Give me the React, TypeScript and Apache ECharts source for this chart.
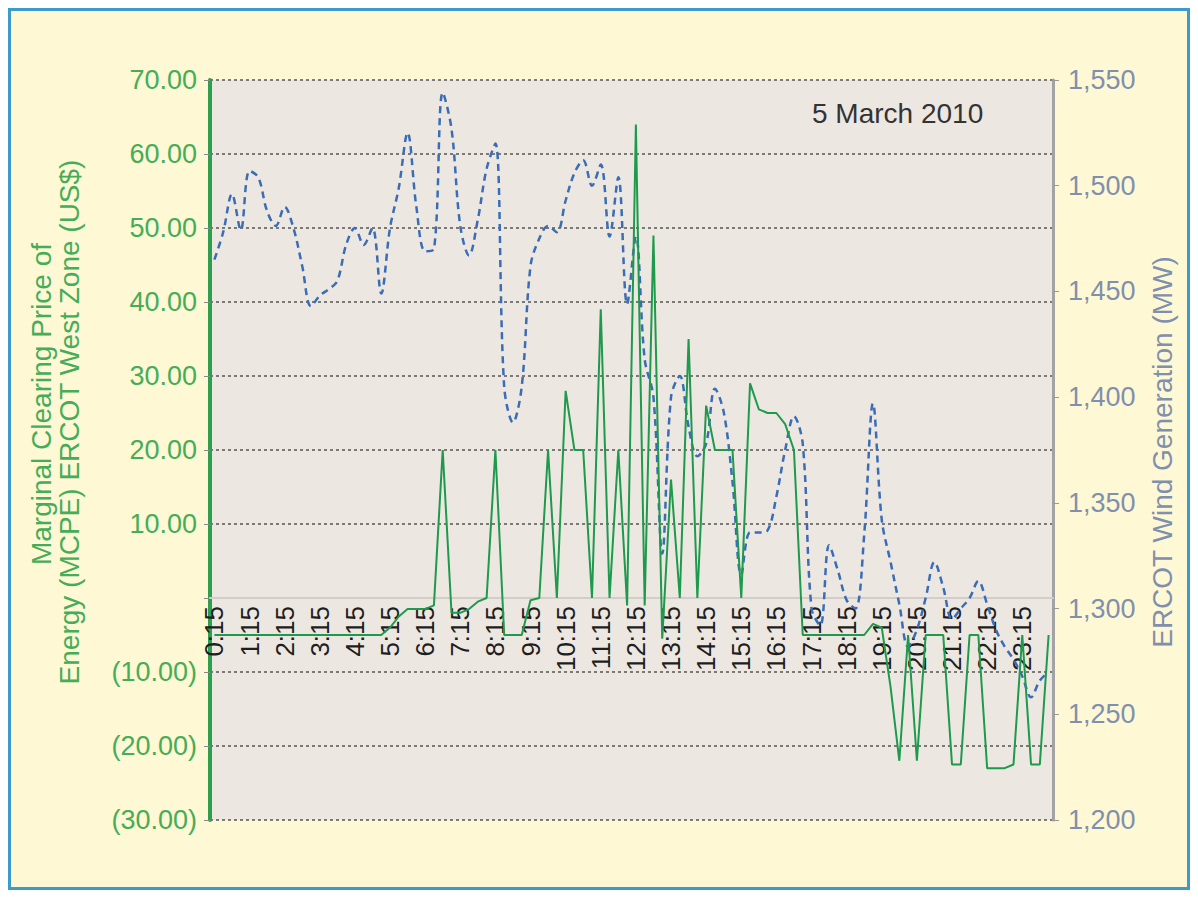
import React, { useEffect, useRef } from "react";
import * as echarts from "echarts";

const times: string[] = [
  "0:15","0:30","0:45","1:00","1:15","1:30","1:45","2:00","2:15","2:30","2:45","3:00",
  "3:15","3:30","3:45","4:00","4:15","4:30","4:45","5:00","5:15","5:30","5:45","6:00",
  "6:15","6:30","6:45","7:00","7:15","7:30","7:45","8:00","8:15","8:30","8:45","9:00",
  "9:15","9:30","9:45","10:00","10:15","10:30","10:45","11:00","11:15","11:30","11:45","12:00",
  "12:15","12:30","12:45","13:00","13:15","13:30","13:45","14:00","14:15","14:30","14:45","15:00",
  "15:15","15:30","15:45","16:00","16:15","16:30","16:45","17:00","17:15","17:30","17:45","18:00",
  "18:15","18:30","18:45","19:00","19:15","19:30","19:45","20:00","20:15","20:30","20:45","21:00",
  "21:15","21:30","21:45","22:00","22:15","22:30","22:45","23:00","23:15","23:30","23:45","24:00",
];

// Marginal Clearing Price of Energy (US$) - left axis
const mcpe: number[] = [
  -5, -5, -5, -5, -5, -5, -5, -5, -5, -5, -5, -5, -5, -5, -5, -5, -5, -5, -5, -5,
  -4, -2.5, -1.5, -1.5, -1.5, -1, 20, -2, -2, -1.5, -0.5, 0, 20, -5, -5, -5,
  -0.3, 0, 20, 0, 28, 20, 20, 0, 39, 0, 20, -1, 64, -1, 49, -5.5,
  16, 0, 35, 0, 26, 20, 20, 20, 0, 29, 25.5, 25, 25, 23.5, 20, -5,
  -5, -5, -5, -5, -5, -5, -5, -3.5, -4, -12, -22, -5, -22, -5, -5, -5,
  -22.5, -22.5, -5, -5, -23, -23, -23, -22.5, -5, -22.5, -22.5, -5,
];

// ERCOT Wind Generation (MW) - right axis
const wind: number[] = [
  1465, 1478, 1496, 1479, 1507, 1504, 1488, 1481, 1490, 1480, 1462, 1443,
  1448, 1451, 1455, 1472, 1480, 1472, 1480, 1449, 1480, 1499, 1525, 1490,
  1469, 1470, 1544, 1527, 1481, 1467, 1484, 1508, 1520, 1405, 1388, 1405,
  1462, 1475, 1481, 1478, 1493, 1506, 1512, 1500, 1510, 1476, 1504, 1444,
  1476, 1418, 1400, 1326, 1400, 1410, 1386, 1372, 1378, 1404, 1393, 1360,
  1316, 1336, 1336, 1337, 1353, 1375, 1391, 1378, 1300, 1292, 1330, 1318,
  1304, 1300, 1335, 1397, 1342, 1322, 1302, 1282, 1290, 1305, 1322, 1310,
  1295, 1300, 1305, 1313, 1302, 1290, 1282, 1276, 1268, 1258, 1266, 1270,
];

const leftTitle1 = "Marginal Clearing Price of";
const leftTitle2 = "Energy (MCPE) ERCOT West Zone (US$)";
const rightTitle = "ERCOT Wind Generation (MW)";
const dateLabel = "5 March 2010";

const FONT = "'Liberation Sans', Arial, Helvetica, sans-serif";
const GREEN_TEXT = "#45AD58";
const BLUE_TEXT = "#7F90AE";

export default function App() {
  const ref = useRef<HTMLDivElement>(null);

  useEffect(() => {
    if (!ref.current) return;
    const chart = echarts.init(ref.current, undefined, { renderer: "svg" });
    chart.setOption({
      animation: false,
      grid: {
        left: 199,
        top: 69,
        width: 843,
        height: 740,
        show: true,
        backgroundColor: "#EDE7E2",
        borderWidth: 0,
      },
      xAxis: {
        type: "category",
        data: times,
        boundaryGap: true,
        position: "bottom",
        offset: -222,
        z: 2,
        axisLine: {
          show: true,
          onZero: false,
          lineStyle: { color: "#D2CDC9", width: 2 },
        },
        axisTick: { show: false },
        axisLabel: {
          interval: 3,
          rotate: 90,
          margin: 8,
          fontSize: 26,
          fontFamily: FONT,
          color: "#1E1E1E",
        },
        splitLine: { show: false },
      },
      yAxis: [
        {
          type: "value",
          position: "left",
          min: -30,
          max: 70,
          interval: 10,
          axisLine: { show: true, lineStyle: { color: "#2E9E4F", width: 4 } },
          axisTick: { show: true, length: 6, lineStyle: { color: "#8A8A8A" } },
          axisLabel: {
            margin: 13,
            fontSize: 27,
            fontFamily: FONT,
            color: GREEN_TEXT,
            formatter: (v: number) =>
              v === 0 ? "" : v > 0 ? v.toFixed(2) : "(" + Math.abs(v).toFixed(2) + ")",
          },
          splitLine: {
            show: true,
            lineStyle: { color: "#555555", width: 1.5, type: [3, 3] },
          },
        },
        {
          type: "value",
          position: "right",
          min: 1200,
          max: 1550,
          interval: 50,
          axisLine: { show: true, lineStyle: { color: "#A3A3A3", width: 3 } },
          axisTick: { show: true, length: 6, lineStyle: { color: "#9A9A9A" } },
          axisLabel: {
            margin: 15,
            fontSize: 27,
            fontFamily: FONT,
            color: BLUE_TEXT,
            formatter: (v: number) =>
              Math.floor(v / 1000) + "," + String(v % 1000).padStart(3, "0"),
          },
          splitLine: { show: false },
        },
      ],
      series: [
        {
          name: "Wind",
          type: "line",
          yAxisIndex: 1,
          data: wind,
          smooth: 0.35,
          symbol: "none",
          lineStyle: { color: "#3A6DB5", width: 2.5, type: [7, 5] },
          z: 3,
        },
        {
          name: "MCPE",
          type: "line",
          yAxisIndex: 0,
          data: mcpe,
          smooth: false,
          symbol: "none",
          lineStyle: { color: "#1E9A4C", width: 2 },
          z: 4,
        },
      ],
      graphic: [
        {
          type: "text",
          x: 30,
          y: 393,
          rotation: Math.PI / 2,
          style: {
            text: leftTitle1,
            fill: GREEN_TEXT,
            fontSize: 28,
            fontFamily: FONT,
            textAlign: "center",
            textVerticalAlign: "middle",
          },
        },
        {
          type: "text",
          x: 58,
          y: 411,
          rotation: Math.PI / 2,
          style: {
            text: leftTitle2,
            fill: GREEN_TEXT,
            fontSize: 28,
            fontFamily: FONT,
            textAlign: "center",
            textVerticalAlign: "middle",
          },
        },
        {
          type: "text",
          x: 1151,
          y: 441,
          rotation: Math.PI / 2,
          style: {
            text: rightTitle,
            fill: BLUE_TEXT,
            fontSize: 28,
            fontFamily: FONT,
            textAlign: "center",
            textVerticalAlign: "middle",
          },
        },
        {
          type: "text",
          x: 801,
          y: 102,
          style: {
            text: dateLabel,
            fill: "#333333",
            fontSize: 28,
            fontFamily: FONT,
            textAlign: "left",
            textVerticalAlign: "middle",
          },
        },
      ],
    });
    return () => chart.dispose();
  }, []);

  return (
    <div
      style={{
        width: 1182,
        height: 882,
        boxSizing: "border-box",
        border: "3px solid #3C9BC9",
        background: "#FFF8D4",
      }}
    >
      <div ref={ref} style={{ width: 1176, height: 876 }} />
    </div>
  );
}
